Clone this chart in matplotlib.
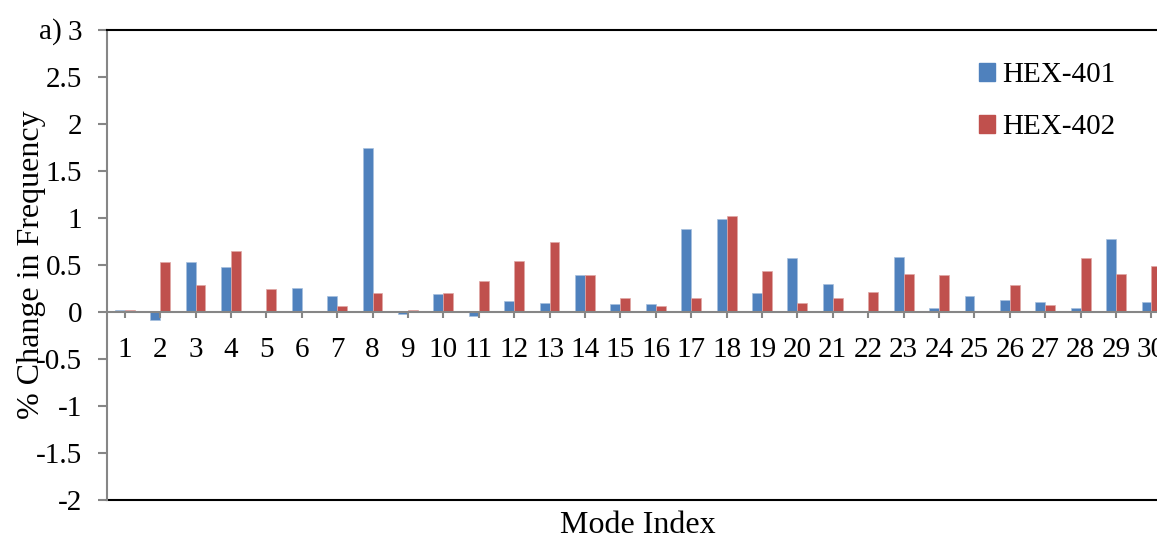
import numpy as np
import matplotlib.pyplot as plt
from matplotlib.patches import Patch

plt.rcParams['font.family'] = ['Liberation Serif', 'DejaVu Serif']

modes = list(range(1, 31))
hex401 = [0.025, -0.09, 0.53, 0.475, 0.0, 0.255, 0.167, 1.745, -0.018, 0.188,
          -0.043, 0.113, 0.092, 0.39, 0.082, 0.082, 0.879, 0.989, 0.199, 0.571,
          0.294, 0.0, 0.585, 0.039, 0.167, 0.128, 0.103, 0.043, 0.773, 0.11]
hex402 = [0.018, 0.535, 0.287, 0.645, 0.241, 0.0, 0.06, 0.199, 0.025, 0.202,
          0.333, 0.546, 0.741, 0.39, 0.145, 0.06, 0.152, 1.018, 0.44, 0.092,
          0.152, 0.216, 0.40, 0.394, 0.0, 0.287, 0.074, 0.571, 0.408, 0.486]
yticks = [-2, -1.5, -1, -0.5, 0, 0.5, 1, 1.5, 2, 2.5, 3]

blue = '#4F81BD'
red = '#C0504D'
grey = '#868686'
fs = 21

fig = plt.figure(figsize=(11.57, 5.40), dpi=100)
ax = fig.add_axes([0.0925, 0.0741, 0.918, 0.8704])

x = np.array(modes)
w = 0.28
ax.bar(x - w / 2, hex401, width=w, color=blue, edgecolor='#A7C0DE', linewidth=0.5, label='HEX-401')
ax.bar(x + w / 2, hex402, width=w, color=red, edgecolor='#DFA8A6', linewidth=0.5, label='HEX-402')

ax.set_xlim(0.5, 30.5)
ax.set_ylim(-2, 3)
ax.set_yticks(yticks)
ax.set_yticklabels([f'{v:g}' for v in yticks])
ax.set_xticks(modes)
ax.set_xticklabels([str(m) for m in modes])

# axis line at zero, black frame top and bottom
ax.spines['bottom'].set_position(('data', 0))
ax.spines['bottom'].set_color(grey)
ax.spines['bottom'].set_linewidth(1.5)
ax.spines['left'].set_color(grey)
ax.spines['left'].set_linewidth(1.5)
ax.spines['top'].set_color('black')
ax.spines['top'].set_linewidth(1.5)
ax.spines['right'].set_visible(False)
ax.axhline(-2, color='black', linewidth=1.5, clip_on=False)

ax.tick_params(axis='y', direction='out', length=6.5, width=1.5, color=grey, labelsize=fs, pad=11.5)
ax.tick_params(axis='x', direction='out', length=4.3, width=1.5, color=grey, labelsize=fs, pad=13.7)

ax.set_xlabel('Mode Index', fontsize=23)
ax.xaxis.set_label_coords(0.5, -0.024)
ax.set_ylabel('% Change in Frequency', fontsize=23)
ax.yaxis.set_label_coords(-0.0575, 0.5)

fig.text(0.0536, 0.941, 'a)', fontsize=fs, ha='right', va='center')

handles = [Patch(color=blue), Patch(color=red)]
ax.legend(handles, ['HEX-401', 'HEX-402'], loc='upper left', bbox_to_anchor=(0.8335, 0.912),
          bbox_transform=fig.transFigure, frameon=False, fontsize=fs,
          handlelength=0.55, handleheight=0.55, handletextpad=0.25, labelspacing=0.9, borderpad=0)

fig.savefig('out.png', dpi=100)
